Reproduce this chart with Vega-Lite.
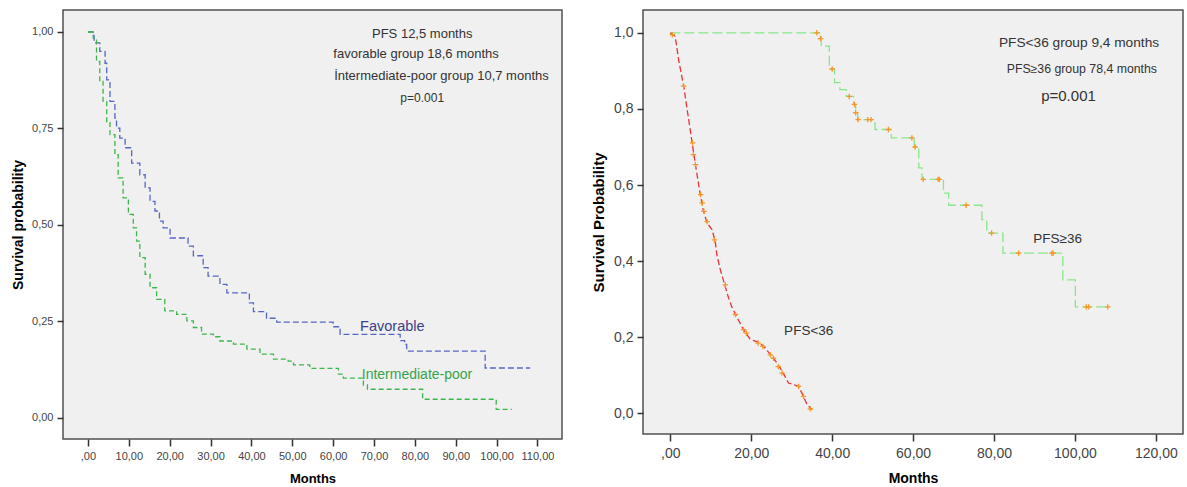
{
  "$schema": "https://vega.github.io/schema/vega-lite/v6.json",
  "background": "white",
  "padding": {"left": 10, "top": 9, "right": 4, "bottom": 2},
  "spacing": 81,
  "bounds": "flush",
  "config": {
    "view": {"fill": "#f0f0f0", "stroke": "#505050", "strokeWidth": 1.5},
    "font": "Liberation Sans",
    "axis": {"grid": false, "domain": false, "tickColor": "#333333", "tickWidth": 1.5, "labelColor": "#444444", "labelFont": "Liberation Sans", "titleFont": "Liberation Sans", "titleFontWeight": "bold", "titleColor": "#000000"}
  },
  "datasets": {
    "leftKM": [
      {"group": "Favorable", "t": 0, "s": 1.0},
      {"group": "Favorable", "t": 1.5, "s": 0.972},
      {"group": "Favorable", "t": 2.9, "s": 0.95},
      {"group": "Favorable", "t": 4.2, "s": 0.919},
      {"group": "Favorable", "t": 4.6, "s": 0.876},
      {"group": "Favorable", "t": 5.4, "s": 0.82},
      {"group": "Favorable", "t": 6.6, "s": 0.777},
      {"group": "Favorable", "t": 7.0, "s": 0.751},
      {"group": "Favorable", "t": 7.8, "s": 0.725},
      {"group": "Favorable", "t": 9.1, "s": 0.7},
      {"group": "Favorable", "t": 10.7, "s": 0.66},
      {"group": "Favorable", "t": 12.7, "s": 0.63},
      {"group": "Favorable", "t": 14.0, "s": 0.596},
      {"group": "Favorable", "t": 15.2, "s": 0.561},
      {"group": "Favorable", "t": 16.4, "s": 0.536},
      {"group": "Favorable", "t": 17.5, "s": 0.51},
      {"group": "Favorable", "t": 18.4, "s": 0.492},
      {"group": "Favorable", "t": 20.1, "s": 0.466},
      {"group": "Favorable", "t": 24.5, "s": 0.445},
      {"group": "Favorable", "t": 25.8, "s": 0.42},
      {"group": "Favorable", "t": 28.2, "s": 0.389},
      {"group": "Favorable", "t": 29.4, "s": 0.367},
      {"group": "Favorable", "t": 32.3, "s": 0.346},
      {"group": "Favorable", "t": 34.0, "s": 0.324},
      {"group": "Favorable", "t": 39.5, "s": 0.298},
      {"group": "Favorable", "t": 40.5, "s": 0.275},
      {"group": "Favorable", "t": 43.7, "s": 0.258},
      {"group": "Favorable", "t": 46.2, "s": 0.248},
      {"group": "Favorable", "t": 60.0, "s": 0.236},
      {"group": "Favorable", "t": 61.7, "s": 0.216},
      {"group": "Favorable", "t": 76.4, "s": 0.2},
      {"group": "Favorable", "t": 77.5, "s": 0.19},
      {"group": "Favorable", "t": 78.0, "s": 0.173},
      {"group": "Favorable", "t": 97.2, "s": 0.129},
      {"group": "Favorable", "t": 108.2, "s": 0.129},
      {"group": "Intermediate-poor", "t": 0, "s": 1.0},
      {"group": "Intermediate-poor", "t": 1.3, "s": 0.984},
      {"group": "Intermediate-poor", "t": 2.1, "s": 0.924},
      {"group": "Intermediate-poor", "t": 2.9, "s": 0.872},
      {"group": "Intermediate-poor", "t": 3.7, "s": 0.82},
      {"group": "Intermediate-poor", "t": 4.6, "s": 0.768},
      {"group": "Intermediate-poor", "t": 5.4, "s": 0.734},
      {"group": "Intermediate-poor", "t": 6.6, "s": 0.682},
      {"group": "Intermediate-poor", "t": 7.4, "s": 0.622},
      {"group": "Intermediate-poor", "t": 8.6, "s": 0.57},
      {"group": "Intermediate-poor", "t": 9.9, "s": 0.527},
      {"group": "Intermediate-poor", "t": 11.1, "s": 0.492},
      {"group": "Intermediate-poor", "t": 11.9, "s": 0.458},
      {"group": "Intermediate-poor", "t": 12.7, "s": 0.415},
      {"group": "Intermediate-poor", "t": 14.0, "s": 0.372},
      {"group": "Intermediate-poor", "t": 15.2, "s": 0.337},
      {"group": "Intermediate-poor", "t": 16.8, "s": 0.307},
      {"group": "Intermediate-poor", "t": 18.8, "s": 0.277},
      {"group": "Intermediate-poor", "t": 21.7, "s": 0.268},
      {"group": "Intermediate-poor", "t": 24.2, "s": 0.251},
      {"group": "Intermediate-poor", "t": 25.8, "s": 0.234},
      {"group": "Intermediate-poor", "t": 27.8, "s": 0.217},
      {"group": "Intermediate-poor", "t": 30.7, "s": 0.21},
      {"group": "Intermediate-poor", "t": 32.3, "s": 0.199},
      {"group": "Intermediate-poor", "t": 35.6, "s": 0.191},
      {"group": "Intermediate-poor", "t": 38.9, "s": 0.178},
      {"group": "Intermediate-poor", "t": 42.1, "s": 0.165},
      {"group": "Intermediate-poor", "t": 45.4, "s": 0.152},
      {"group": "Intermediate-poor", "t": 49.0, "s": 0.147},
      {"group": "Intermediate-poor", "t": 50.3, "s": 0.137},
      {"group": "Intermediate-poor", "t": 54.3, "s": 0.128},
      {"group": "Intermediate-poor", "t": 61.3, "s": 0.113},
      {"group": "Intermediate-poor", "t": 62.5, "s": 0.103},
      {"group": "Intermediate-poor", "t": 67.4, "s": 0.085},
      {"group": "Intermediate-poor", "t": 68.4, "s": 0.074},
      {"group": "Intermediate-poor", "t": 81.9, "s": 0.048},
      {"group": "Intermediate-poor", "t": 99.9, "s": 0.022},
      {"group": "Intermediate-poor", "t": 103.7, "s": 0.022}
    ],
    "redKM": [
      {"group": "PFS<36", "t": 0, "s": 1.0},
      {"group": "PFS<36", "t": 1.2, "s": 0.991},
      {"group": "PFS<36", "t": 2.1, "s": 0.926},
      {"group": "PFS<36", "t": 3.3, "s": 0.86},
      {"group": "PFS<36", "t": 4.1, "s": 0.803},
      {"group": "PFS<36", "t": 5.4, "s": 0.711},
      {"group": "PFS<36", "t": 6.2, "s": 0.654},
      {"group": "PFS<36", "t": 7.4, "s": 0.575},
      {"group": "PFS<36", "t": 8.2, "s": 0.531},
      {"group": "PFS<36", "t": 9.1, "s": 0.5},
      {"group": "PFS<36", "t": 10.3, "s": 0.483},
      {"group": "PFS<36", "t": 11.1, "s": 0.452},
      {"group": "PFS<36", "t": 11.5, "s": 0.417},
      {"group": "PFS<36", "t": 12.3, "s": 0.38},
      {"group": "PFS<36", "t": 13.2, "s": 0.347},
      {"group": "PFS<36", "t": 14.4, "s": 0.303},
      {"group": "PFS<36", "t": 15.2, "s": 0.28},
      {"group": "PFS<36", "t": 16.1, "s": 0.26},
      {"group": "PFS<36", "t": 17.1, "s": 0.24},
      {"group": "PFS<36", "t": 18.1, "s": 0.22},
      {"group": "PFS<36", "t": 19.8, "s": 0.194},
      {"group": "PFS<36", "t": 21.4, "s": 0.189},
      {"group": "PFS<36", "t": 23.1, "s": 0.176},
      {"group": "PFS<36", "t": 24.1, "s": 0.163},
      {"group": "PFS<36", "t": 25.1, "s": 0.15},
      {"group": "PFS<36", "t": 26.2, "s": 0.135},
      {"group": "PFS<36", "t": 27.2, "s": 0.119},
      {"group": "PFS<36", "t": 28.2, "s": 0.1},
      {"group": "PFS<36", "t": 29.2, "s": 0.08},
      {"group": "PFS<36", "t": 31.7, "s": 0.071},
      {"group": "PFS<36", "t": 32.9, "s": 0.045},
      {"group": "PFS<36", "t": 33.8, "s": 0.023},
      {"group": "PFS<36", "t": 35.0, "s": 0.01}
    ],
    "greenKM": [
      {"group": "PFS≥36", "t": 0, "s": 1.0},
      {"group": "PFS≥36", "t": 37.3, "s": 0.965},
      {"group": "PFS≥36", "t": 39.3, "s": 0.905},
      {"group": "PFS≥36", "t": 40.6, "s": 0.869},
      {"group": "PFS≥36", "t": 41.9, "s": 0.851},
      {"group": "PFS≥36", "t": 43.5, "s": 0.833},
      {"group": "PFS≥36", "t": 45.3, "s": 0.812},
      {"group": "PFS≥36", "t": 45.8, "s": 0.79},
      {"group": "PFS≥36", "t": 46.3, "s": 0.772},
      {"group": "PFS≥36", "t": 50.6, "s": 0.746},
      {"group": "PFS≥36", "t": 54.6, "s": 0.724},
      {"group": "PFS≥36", "t": 60.3, "s": 0.7},
      {"group": "PFS≥36", "t": 61.4, "s": 0.645},
      {"group": "PFS≥36", "t": 62.2, "s": 0.615},
      {"group": "PFS≥36", "t": 67.5, "s": 0.579},
      {"group": "PFS≥36", "t": 68.8, "s": 0.547},
      {"group": "PFS≥36", "t": 77.0, "s": 0.509},
      {"group": "PFS≥36", "t": 78.2, "s": 0.474},
      {"group": "PFS≥36", "t": 82.2, "s": 0.421},
      {"group": "PFS≥36", "t": 97.0, "s": 0.351},
      {"group": "PFS≥36", "t": 100.1, "s": 0.28},
      {"group": "PFS≥36", "t": 108.3, "s": 0.28}
    ],
    "censored": [
      {"group": "PFS<36", "t": 0.5, "s": 0.995},
      {"group": "PFS<36", "t": 3.3, "s": 0.86},
      {"group": "PFS<36", "t": 5.5, "s": 0.711},
      {"group": "PFS<36", "t": 5.7, "s": 0.68},
      {"group": "PFS<36", "t": 6.2, "s": 0.654},
      {"group": "PFS<36", "t": 7.5, "s": 0.575},
      {"group": "PFS<36", "t": 7.9, "s": 0.553},
      {"group": "PFS<36", "t": 8.3, "s": 0.531},
      {"group": "PFS<36", "t": 9.1, "s": 0.504},
      {"group": "PFS<36", "t": 10.9, "s": 0.456},
      {"group": "PFS<36", "t": 13.6, "s": 0.338},
      {"group": "PFS<36", "t": 16.1, "s": 0.26},
      {"group": "PFS<36", "t": 18.1, "s": 0.22},
      {"group": "PFS<36", "t": 18.8, "s": 0.211},
      {"group": "PFS<36", "t": 21.7, "s": 0.185},
      {"group": "PFS<36", "t": 22.9, "s": 0.176},
      {"group": "PFS<36", "t": 24.7, "s": 0.154},
      {"group": "PFS<36", "t": 25.5, "s": 0.145},
      {"group": "PFS<36", "t": 26.7, "s": 0.123},
      {"group": "PFS<36", "t": 27.6, "s": 0.106},
      {"group": "PFS<36", "t": 31.7, "s": 0.071},
      {"group": "PFS<36", "t": 32.9, "s": 0.045},
      {"group": "PFS<36", "t": 34.6, "s": 0.012},
      {"group": "PFS≥36", "t": 36.2, "s": 1.0},
      {"group": "PFS≥36", "t": 37.1, "s": 0.985},
      {"group": "PFS≥36", "t": 40.0, "s": 0.905},
      {"group": "PFS≥36", "t": 44.2, "s": 0.833},
      {"group": "PFS≥36", "t": 45.5, "s": 0.812},
      {"group": "PFS≥36", "t": 45.8, "s": 0.79},
      {"group": "PFS≥36", "t": 46.4, "s": 0.772},
      {"group": "PFS≥36", "t": 48.8, "s": 0.772},
      {"group": "PFS≥36", "t": 49.6, "s": 0.772},
      {"group": "PFS≥36", "t": 53.9, "s": 0.746},
      {"group": "PFS≥36", "t": 59.7, "s": 0.724},
      {"group": "PFS≥36", "t": 60.5, "s": 0.7},
      {"group": "PFS≥36", "t": 62.5, "s": 0.615},
      {"group": "PFS≥36", "t": 66.2, "s": 0.615},
      {"group": "PFS≥36", "t": 66.5, "s": 0.615},
      {"group": "PFS≥36", "t": 73.1, "s": 0.547},
      {"group": "PFS≥36", "t": 79.4, "s": 0.474},
      {"group": "PFS≥36", "t": 86.1, "s": 0.421},
      {"group": "PFS≥36", "t": 94.3, "s": 0.421},
      {"group": "PFS≥36", "t": 94.6, "s": 0.421},
      {"group": "PFS≥36", "t": 102.8, "s": 0.28},
      {"group": "PFS≥36", "t": 103.4, "s": 0.28},
      {"group": "PFS≥36", "t": 108.1, "s": 0.28}
    ]
  },
  "hconcat": [
    {
      "width": 499,
      "height": 429,
      "encoding": {
        "x": {"field": "t", "type": "quantitative", "scale": {"domain": [-6.1, 116], "nice": false, "zero": false},
          "axis": {"values": [0, 10, 20, 30, 40, 50, 60, 70, 80, 90, 100, 110], "labelExpr": "datum.value == 0 ? ',00' : replace(format(datum.value, '.2f'), '.', ',')", "tickSize": 7, "labelFontSize": 11, "labelPadding": 4, "title": "Months", "titleFontSize": 13, "titlePadding": 11}},
        "y": {"field": "s", "type": "quantitative", "scale": {"domain": [-0.055, 1.057], "nice": false, "zero": false},
          "axis": {"values": [0, 0.25, 0.5, 0.75, 1], "labelExpr": "replace(format(datum.value, '.2f'), '.', ',')", "tickSize": 6, "labelFontSize": 11, "labelPadding": 4, "title": "Survival probability", "titleFontSize": 14, "titlePadding": 6}}
      },
      "layer": [
        {
          "data": {"name": "leftKM"},
          "mark": {"type": "line", "interpolate": "step-after", "strokeWidth": 1.3},
          "encoding": {
            "color": {"field": "group", "type": "nominal", "scale": {"domain": ["Favorable", "Intermediate-poor"], "range": ["#5566c4", "#3db54a"]}, "legend": null},
            "strokeDash": {"field": "group", "type": "nominal", "scale": {"domain": ["Favorable", "Intermediate-poor"], "range": [[6, 3], [5, 3]]}, "legend": null}
          }
        },
        {
          "data": {"values": [
            {"t": 81.8, "s": 0.9935, "label": "PFS 12,5 months"},
            {"t": 80.3, "s": 0.942, "label": "favorable group 18,6 months"},
            {"t": 86.5, "s": 0.885, "label": "İntermediate-poor group 10,7 months"}
          ]},
          "mark": {"type": "text", "fontSize": 13, "color": "#333333", "align": "center", "baseline": "middle"},
          "encoding": {"text": {"field": "label"}}
        },
        {
          "data": {"values": [{"t": 81.8, "s": 0.828, "label": "p=0.001"}]},
          "mark": {"type": "text", "fontSize": 12, "color": "#333333", "align": "center", "baseline": "middle"},
          "encoding": {"text": {"field": "label"}}
        },
        {
          "data": {"values": [{"t": 66.6, "s": 0.2355, "label": "Favorable"}]},
          "mark": {"type": "text", "fontSize": 14.5, "color": "#3b3f8c", "align": "left", "baseline": "middle"},
          "encoding": {"text": {"field": "label"}}
        },
        {
          "data": {"values": [{"t": 67.0, "s": 0.111, "label": "Intermediate-poor"}]},
          "mark": {"type": "text", "fontSize": 14, "color": "#35a34a", "align": "left", "baseline": "middle"},
          "encoding": {"text": {"field": "label"}}
        }
      ]
    },
    {
      "width": 540,
      "height": 424,
      "encoding": {
        "x": {"field": "t", "type": "quantitative", "scale": {"domain": [-6.75, 126.7], "nice": false, "zero": false},
          "axis": {"values": [0, 20, 40, 60, 80, 100, 120], "labelExpr": "datum.value == 0 ? ',00' : replace(format(datum.value, '.2f'), '.', ',')", "tickSize": 7, "labelFontSize": 14, "labelPadding": 5, "title": "Months", "titleFontSize": 14, "titlePadding": 11}},
        "y": {"field": "s", "type": "quantitative", "scale": {"domain": [-0.054, 1.06], "nice": false, "zero": false},
          "axis": {"values": [0, 0.2, 0.4, 0.6, 0.8, 1], "labelExpr": "replace(format(datum.value, '.1f'), '.', ',')", "tickSize": 6, "labelFontSize": 14, "labelPadding": 4, "title": "Survival Probability", "titleFontSize": 15, "titlePadding": 7}}
      },
      "layer": [
        {
          "data": {"name": "greenKM"},
          "mark": {"type": "line", "interpolate": "step-after", "strokeWidth": 1.3, "color": "#86e886", "strokeDash": [10, 4]}
        },
        {
          "data": {"name": "redKM"},
          "mark": {"type": "line", "interpolate": "linear", "strokeWidth": 1.3, "color": "#e8323a", "strokeDash": [6, 3]}
        },
        {
          "data": {"name": "censored"},
          "mark": {"type": "point", "shape": "M-1,0L1,0M0,-1L0,1", "size": 30, "filled": false, "stroke": "#f7962a", "strokeWidth": 1.3, "opacity": 1}
        },
        {
          "data": {"values": [{"t": 101.0, "s": 0.974, "label": "PFS<36 group 9,4 months"}]},
          "mark": {"type": "text", "fontSize": 13.7, "color": "#333333", "align": "center", "baseline": "middle"},
          "encoding": {"text": {"field": "label"}}
        },
        {
          "data": {"values": [{"t": 101.7, "s": 0.904, "label": "PFS≥36 group 78,4 months"}]},
          "mark": {"type": "text", "fontSize": 12.3, "color": "#333333", "align": "center", "baseline": "middle"},
          "encoding": {"text": {"field": "label"}}
        },
        {
          "data": {"values": [{"t": 98.4, "s": 0.834, "label": "p=0.001"}]},
          "mark": {"type": "text", "fontSize": 15, "color": "#333333", "align": "center", "baseline": "middle"},
          "encoding": {"text": {"field": "label"}}
        },
        {
          "data": {"values": [
            {"t": 34.2, "s": 0.216, "label": "PFS<36"},
            {"t": 95.7, "s": 0.459, "label": "PFS≥36"}
          ]},
          "mark": {"type": "text", "fontSize": 13.5, "color": "#333333", "align": "center", "baseline": "middle"},
          "encoding": {"text": {"field": "label"}}
        }
      ]
    }
  ]
}
